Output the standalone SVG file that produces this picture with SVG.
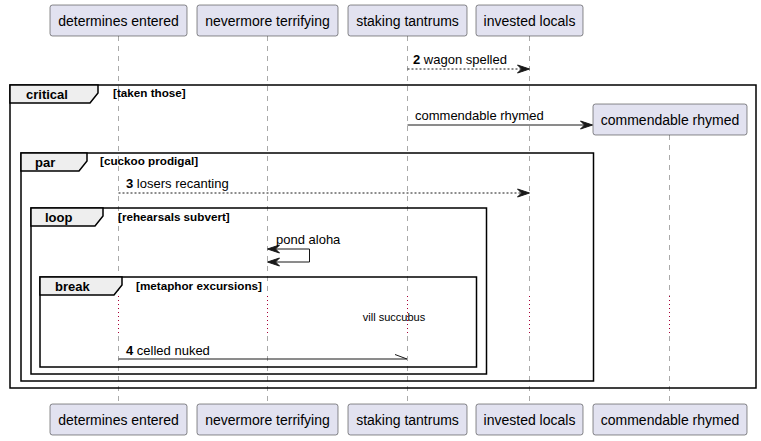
<svg xmlns="http://www.w3.org/2000/svg" width="761" height="441" viewBox="0 0 761 441">
<defs>
<style>
.pbox{fill:#E2E2F0;stroke:#181818;stroke-width:0.5}
.ptxt{font-family:"Liberation Sans",Arial,sans-serif;font-size:14px;fill:#000;text-anchor:middle}
.life{stroke:#555;stroke-width:0.5;stroke-dasharray:5,5;fill:none}
.delay{stroke:#A80036;stroke-width:1;stroke-dasharray:1,3;fill:none}
.frame{fill:none;stroke:#000;stroke-width:1.5}
.tab{fill:#EEEEEE;stroke:#000;stroke-width:1.5}
.ftitle{font-family:"Liberation Sans",Arial,sans-serif;font-size:13px;font-weight:bold;fill:#000}
.flabel{font-family:"Liberation Sans",Arial,sans-serif;font-size:11.7px;font-weight:bold;fill:#000}
.msg{stroke:#181818;stroke-width:1;fill:none}
.dash{stroke-dasharray:2,2}
.mtxt{font-family:"Liberation Sans",Arial,sans-serif;font-size:13px;fill:#000}
.num{font-weight:bold}
.head{fill:#181818;stroke:#181818;stroke-width:1}
</style>
</defs>
<g id="lifelines">
<line class="life" x1="118.5" y1="36" x2="118.5" y2="296"/><line class="delay" x1="118.5" y1="296" x2="118.5" y2="336"/><line class="life" x1="118.5" y1="336" x2="118.5" y2="404"/>
<line class="life" x1="267.5" y1="36" x2="267.5" y2="296"/><line class="delay" x1="267.5" y1="296" x2="267.5" y2="336"/><line class="life" x1="267.5" y1="336" x2="267.5" y2="404"/>
<line class="life" x1="407.5" y1="36" x2="407.5" y2="296"/><line class="delay" x1="407.5" y1="296" x2="407.5" y2="336"/><line class="life" x1="407.5" y1="336" x2="407.5" y2="404"/>
<line class="life" x1="529.5" y1="36" x2="529.5" y2="296"/><line class="delay" x1="529.5" y1="296" x2="529.5" y2="336"/><line class="life" x1="529.5" y1="336" x2="529.5" y2="404"/>
<line class="life" x1="669.5" y1="135" x2="669.5" y2="296"/><line class="delay" x1="669.5" y1="296" x2="669.5" y2="336"/><line class="life" x1="669.5" y1="336" x2="669.5" y2="404"/>
</g>
<g id="frame-critical">
<rect class="frame" x="10" y="85" width="746" height="303"/>
<polygon class="tab" points="10,85 98,85 98,93 90,103 10,103"/>
<text class="ftitle" x="26" y="99">critical</text>
<text class="flabel" x="113" y="97">[taken those]</text>
</g>
<g id="frame-par">
<rect class="frame" x="21" y="153" width="572.5" height="228"/>
<polygon class="tab" points="21,153 87,153 87,161 79,171 21,171"/>
<text class="ftitle" x="35" y="167">par</text>
<text class="flabel" x="100" y="165">[cuckoo prodigal]</text>
</g>
<g id="frame-loop">
<rect class="frame" x="31" y="208" width="455.5" height="166"/>
<polygon class="tab" points="31,208 103,208 103,216 95,226 31,226"/>
<text class="ftitle" x="45" y="222">loop</text>
<text class="flabel" x="118" y="221">[rehearsals subvert]</text>
</g>
<g id="frame-break">
<rect class="frame" x="40" y="277" width="436.5" height="90"/>
<polygon class="tab" points="40,277 122,277 122,285 114,295 40,295"/>
<text class="ftitle" x="55" y="291">break</text>
<text class="flabel" x="136" y="290">[metaphor excursions]</text>
</g>
<g id="p-determines-entered-top"><rect class="pbox" x="50" y="5" width="137" height="31" rx="2.5"/><text class="ptxt" x="118.5" y="25.5">determines entered</text></g>
<g id="p-nevermore-terrifying-top"><rect class="pbox" x="197" y="5" width="141" height="31" rx="2.5"/><text class="ptxt" x="267.5" y="25.5">nevermore terrifying</text></g>
<g id="p-staking-tantrums-top"><rect class="pbox" x="348" y="5" width="119" height="31" rx="2.5"/><text class="ptxt" x="407.5" y="25.5">staking tantrums</text></g>
<g id="p-invested-locals-top"><rect class="pbox" x="476" y="5" width="107" height="31" rx="2.5"/><text class="ptxt" x="529.5" y="25.5">invested locals</text></g>
<g id="p-commendable-rhymed-top"><rect class="pbox" x="593" y="104" width="154" height="31" rx="2.5"/><text class="ptxt" x="670" y="124.5">commendable rhymed</text></g>
<g id="p-determines-entered-bottom"><rect class="pbox" x="50" y="404" width="137" height="31" rx="2.5"/><text class="ptxt" x="118.5" y="425">determines entered</text></g>
<g id="p-nevermore-terrifying-bottom"><rect class="pbox" x="197" y="404" width="141" height="31" rx="2.5"/><text class="ptxt" x="267.5" y="425">nevermore terrifying</text></g>
<g id="p-staking-tantrums-bottom"><rect class="pbox" x="348" y="404" width="119" height="31" rx="2.5"/><text class="ptxt" x="407.5" y="425">staking tantrums</text></g>
<g id="p-invested-locals-bottom"><rect class="pbox" x="476" y="404" width="107" height="31" rx="2.5"/><text class="ptxt" x="529.5" y="425">invested locals</text></g>
<g id="p-commendable-rhymed-bottom"><rect class="pbox" x="593" y="404" width="154" height="31" rx="2.5"/><text class="ptxt" x="670" y="425">commendable rhymed</text></g>
<g id="connectors">
<line class="msg dash" x1="407.5" y1="69" x2="527" y2="69"/>
<polygon class="head" points="517.5,65 529.5,69 517.5,73 521.5,69"/>
<text class="mtxt" x="413" y="64"><tspan class="num">2</tspan> wagon spelled</text>
<line class="msg" x1="407.5" y1="125" x2="590" y2="125"/>
<polygon class="head" points="580.5,121 592.5,125 580.5,129 584.5,125"/>
<text class="mtxt" x="415" y="120">commendable rhymed</text>
<line class="msg dash" x1="118.5" y1="193" x2="527" y2="193"/>
<polygon class="head" points="517.5,189 529.5,193 517.5,197 521.5,193"/>
<text class="mtxt" x="126" y="188"><tspan class="num">3</tspan> losers recanting</text>
<polyline class="msg" points="270,249 309.5,249 309.5,262 270,262"/>
<polygon class="head" points="279.5,245 267.5,249 279.5,253 275.5,249"/>
<polygon class="head" points="279.5,258 267.5,262 279.5,266 275.5,262"/>
<text class="mtxt" x="276" y="244">pond aloha</text>
<text class="mtxt" x="394" y="321" style="font-size:11px" text-anchor="middle">vill succubus</text>
<line class="msg" x1="118.5" y1="359" x2="407" y2="359"/>
<line class="msg" x1="395" y1="354.5" x2="407" y2="359"/>
<text class="mtxt" x="126" y="355"><tspan class="num">4</tspan> celled nuked</text>
</g>
</svg>
